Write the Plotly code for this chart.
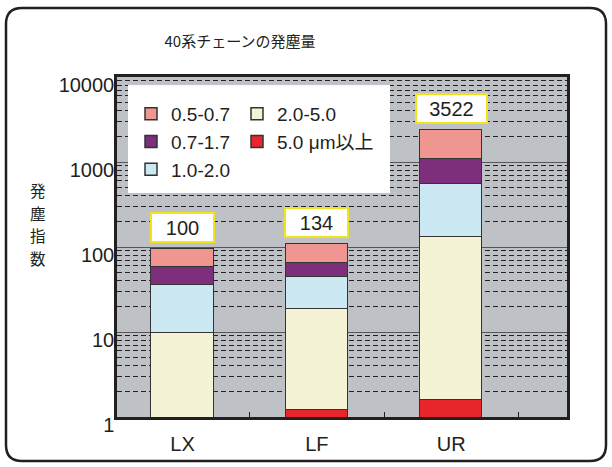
import math
import plotly.graph_objects as go

# ---------------- data ----------------
categories = ["LX", "LF", "UR"]
red_vals = [0, 1.2, 1.6]          # 5.0 μm以上
cream_vals = [9.7, 17.3, 128.4]   # 2.0-5.0
blue_vals = [26.3, 26.2, 417]     # 1.0-2.0
purple_vals = [22.7, 20.7, 529]   # 0.7-1.7
pink_vals = [36.0, 43.1, 1303]    # 0.5-0.7
total_labels = ["100", "134", "3522"]
y_tick_vals = [1, 10, 100, 1000, 10000]
y_tick_text = ["1", "10", "100", "1000", "10000"]
y_title_chars = ["発", "塵", "指", "数"]

# ---------------- layout helpers ----------------
W, H = 612, 467
L, R, T, B = 117, 45, 77, 50
PW, PH = W - L - R, H - T - B


def px(x):
    return (x - L) / PW


def py(y):
    return (H - B - y) / PH


FONT = "Liberation Sans, Arial, Noto Sans CJK JP, sans-serif"
JFONT = "Noto Sans CJK JP, sans-serif"
OUT = "#333333"
TXT = "#231f20"

series = [
    ("5.0 μm以上", red_vals, "#e8262c", "legend2"),
    ("2.0-5.0", cream_vals, "#f4f3d5", "legend2"),
    ("1.0-2.0", blue_vals, "#cbe8f3", "legend"),
    ("0.7-1.7", purple_vals, "#7d2f7b", "legend"),
    ("0.5-0.7", pink_vals, "#ef9690", "legend"),
]

fig = go.Figure()
for name, vals, color, lg in series:
    fig.add_trace(go.Bar(
        x=categories, y=vals, name=name, legend=lg,
        marker=dict(color=color, line=dict(color=OUT, width=1.5)),
        width=0.4615,
    ))

totals = [sum(v) for v in zip(red_vals, cream_vals, blue_vals, purple_vals, pink_vals)]
annotations = []
for cat, tot, lab in zip(categories, totals, total_labels):
    annotations.append(dict(
        x=cat, y=math.log10(tot), xref="x", yref="y", text=lab, showarrow=False,
        yanchor="bottom", yshift=6,
        font=dict(family=FONT, size=20, color=TXT),
        bgcolor="white", bordercolor="#f2e31c", borderwidth=2, borderpad=1,
        width=35 + 8 * len(lab), height=25,
    ))

for i, ch in enumerate(y_title_chars):
    annotations.append(dict(
        x=px(38), y=py(190 + 22.5 * i), xref="paper", yref="paper",
        text=ch, showarrow=False,
        font=dict(family=JFONT, size=15.5, color=TXT),
        xanchor="center", yanchor="middle",
    ))

r = 16
x0, x1, y0, y1 = 6, 606, 8, 461
frame = (
    f"M {px(x0+r)},{py(y0)} L {px(x1-r)},{py(y0)} Q {px(x1)},{py(y0)} {px(x1)},{py(y0+r)} "
    f"L {px(x1)},{py(y1-r)} Q {px(x1)},{py(y1)} {px(x1-r)},{py(y1)} "
    f"L {px(x0+r)},{py(y1)} Q {px(x0)},{py(y1)} {px(x0)},{py(y1-r)} "
    f"L {px(x0)},{py(y0+r)} Q {px(x0)},{py(y0)} {px(x0+r)},{py(y0)} Z"
)

shapes = [
    dict(type="rect", xref="paper", yref="paper",
         x0=px(128), x1=px(390), y0=py(193), y1=py(85),
         fillcolor="white", line=dict(width=0), layer="above"),
    dict(type="path", xref="paper", yref="paper", path=frame,
         line=dict(color=TXT, width=2.5), layer="above"),
]

fig.update_layout(
    width=W, height=H, autosize=False,
    margin=dict(l=L, r=R, t=T, b=B, autoexpand=False),
    paper_bgcolor="white", plot_bgcolor="#bec1c6",
    barmode="stack", bargap=0,
    font=dict(family=FONT, color=TXT),
    title=dict(text="40系チェーンの発塵量", x=240 / W, xanchor="center",
               y=1 - 42 / H, yanchor="middle",
               font=dict(family=JFONT, size=15, color=TXT)),
    showlegend=True,
    legend=dict(x=px(131), y=py(95), xanchor="left", yanchor="top",
                orientation="v", traceorder="reversed",
                bgcolor="rgba(0,0,0,0)", borderwidth=0,
                font=dict(family=FONT, size=19, color=TXT)),
    legend2=dict(x=px(237), y=py(95), xanchor="left", yanchor="top",
                 orientation="v", traceorder="reversed",
                 bgcolor="rgba(0,0,0,0)", borderwidth=0,
                 font=dict(family=FONT, size=19, color=TXT)),
    annotations=annotations,
    shapes=shapes,
)

fig.update_xaxes(
    type="category", range=[-0.4875, 2.862], automargin=False,
    showline=True, linecolor=TXT, linewidth=2.5, mirror=True,
    showgrid=False, ticks="inside", ticklen=5, tickcolor=TXT,
    tickson="boundaries", ticklabelstandoff=7,
    tickfont=dict(family=FONT, size=20, color=TXT),
)
fig.update_yaxes(
    type="log", range=[0, 4], automargin=False,
    tickvals=y_tick_vals, ticktext=y_tick_text,
    showline=True, linecolor=TXT, linewidth=2.5, mirror=True,
    showgrid=True, gridcolor="#555555", gridwidth=1,
    minor=dict(dtick="D1", showgrid=True, gridcolor="#222222",
               griddash="5px,3px", gridwidth=1, ticks=""),
    ticks="", ticklabelshift=8, ticklabelstandoff=-4,
    tickfont=dict(family=FONT, size=20, color=TXT),
    zeroline=False,
)

fig.write_html(
    "out.html",
    config={"displayModeBar": False},
    post_script="document.body.style.margin='0px';document.body.style.overflow='hidden';",
)
